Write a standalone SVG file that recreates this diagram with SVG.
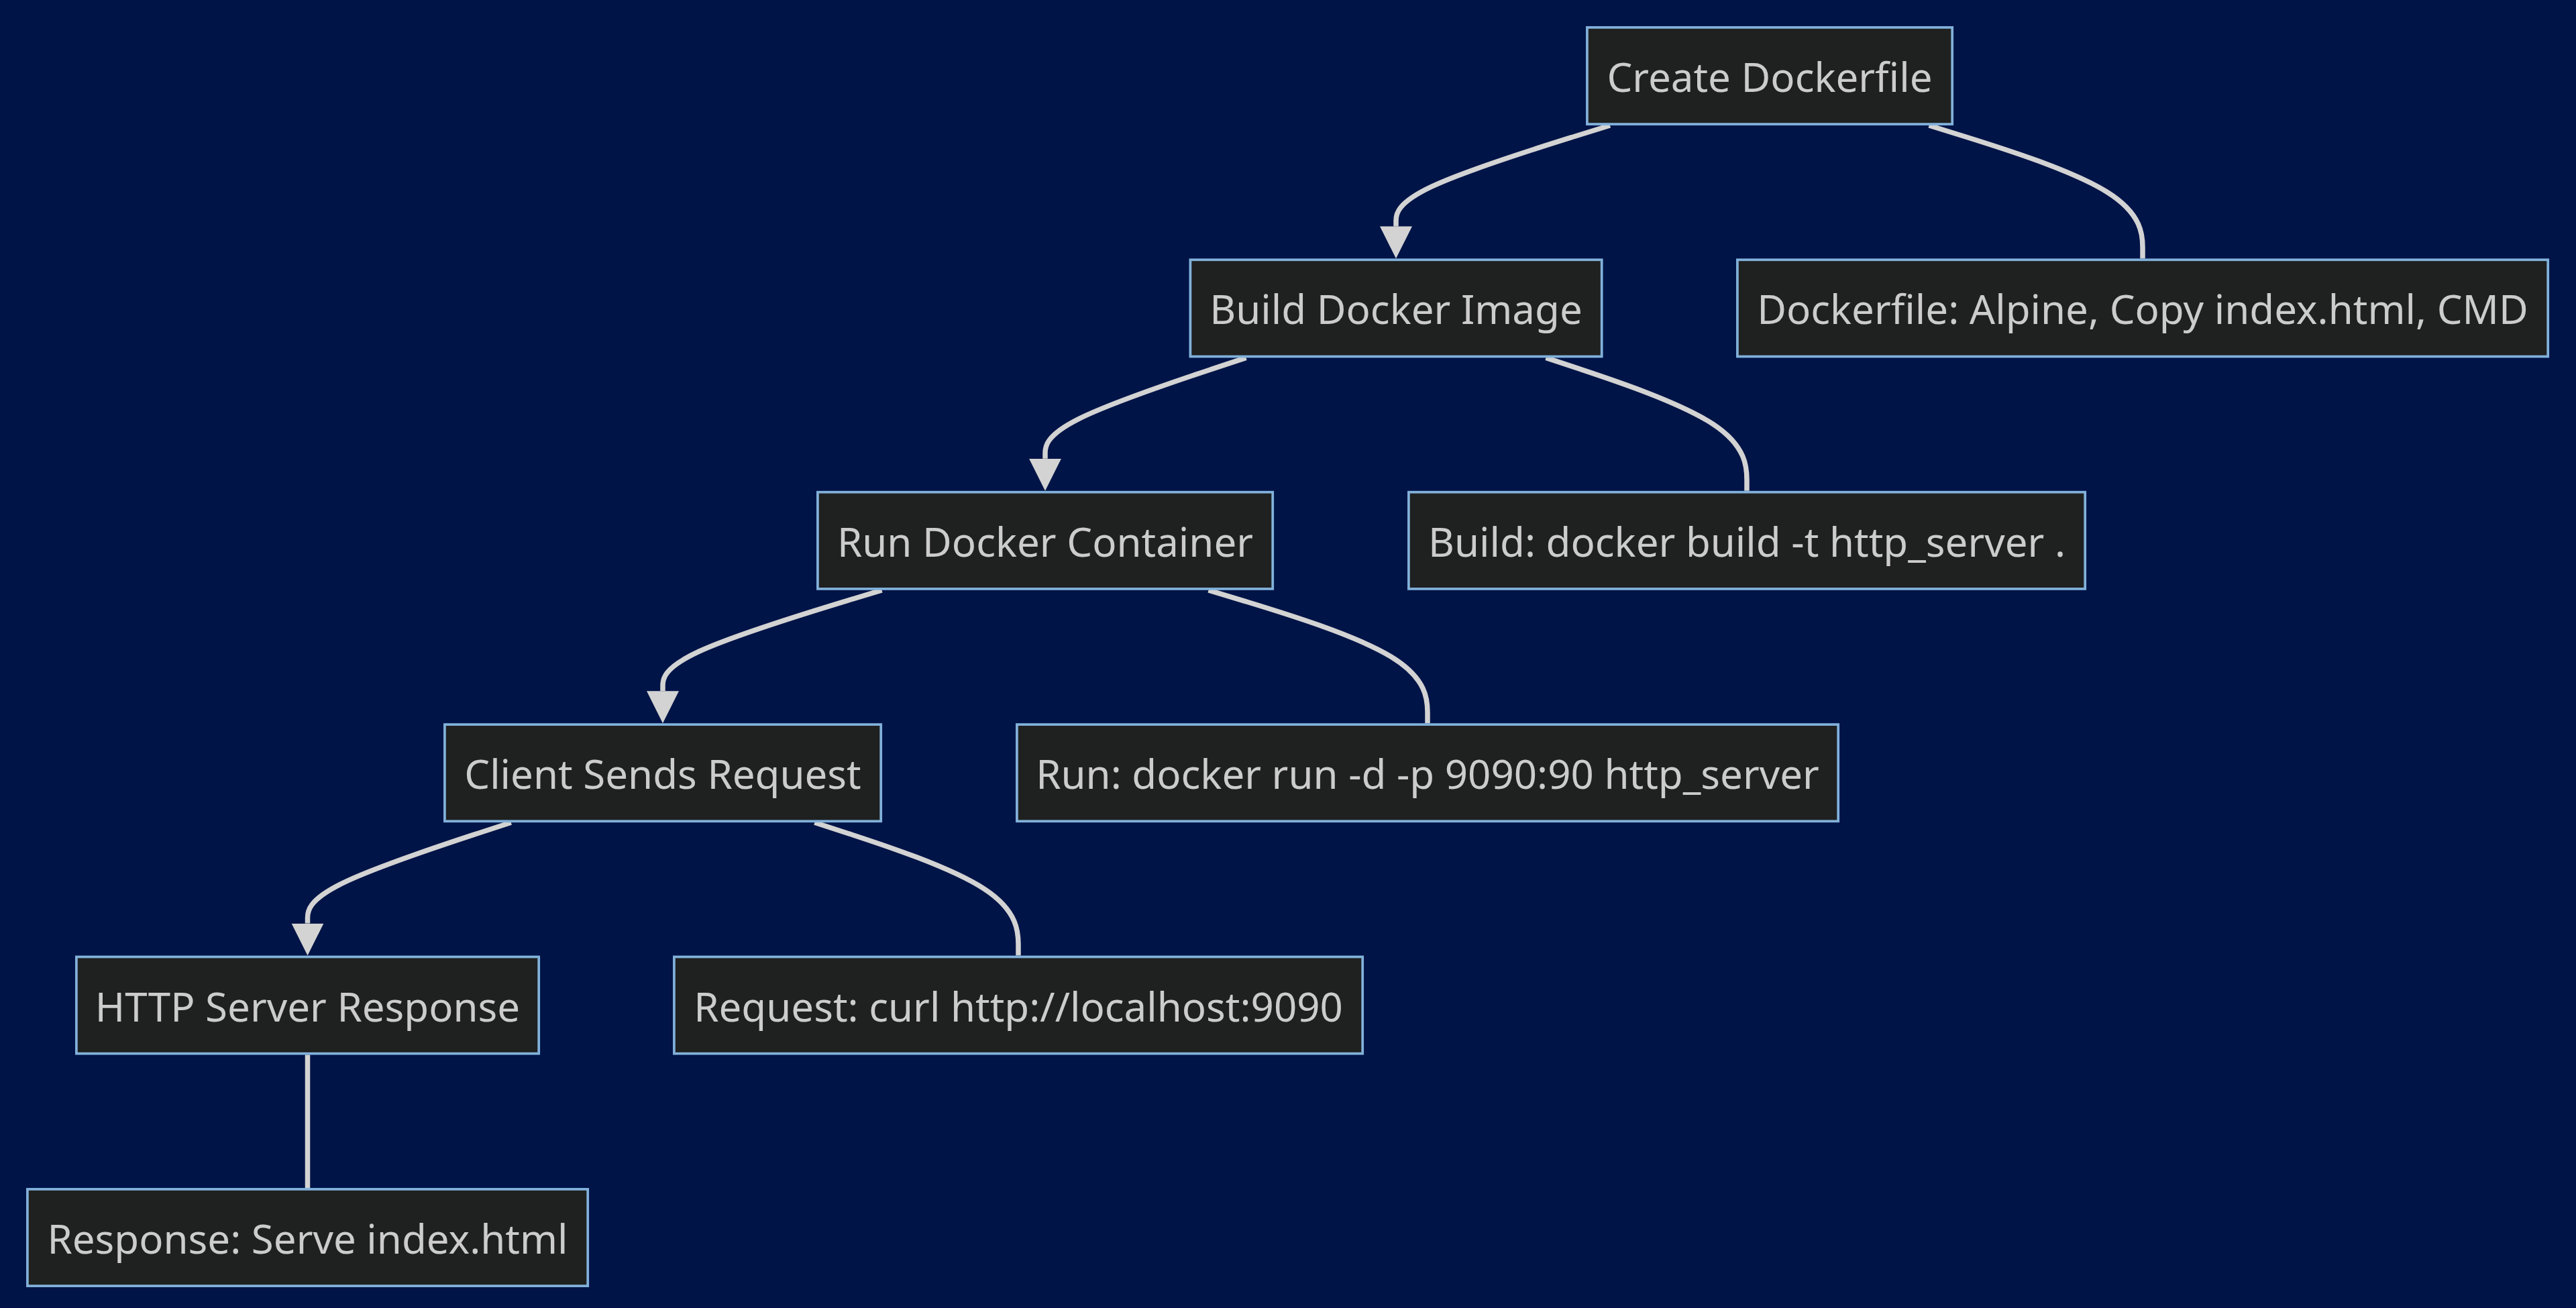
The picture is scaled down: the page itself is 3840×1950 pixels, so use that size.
<svg xmlns="http://www.w3.org/2000/svg" width="3840" height="1950" viewBox="0 0 3840 1950">
<style>
.bg{fill:#001447}
.node rect{fill:#1f2020;stroke:#81b1db;stroke-width:3.75}
.node text{font-family:"Noto Sans","Open Sans",sans-serif;font-size:60px;fill:#cccccc;text-anchor:middle}
.edge{fill:none;stroke:#d3d3d3;stroke-width:7.5}
.arrow{marker-end:url(#arrowhead)}
</style>
<defs>
<marker id="arrowhead" viewBox="0 0 10 10" refX="0" refY="5" markerUnits="userSpaceOnUse" markerWidth="48" markerHeight="48" orient="auto">
<path d="M0,0 L10,5 L0,10 z" fill="#d3d3d3"/>
</marker>
</defs>
<rect class="bg" x="0" y="0" width="3840" height="1950"/>
<g id="connectors">
<path class="edge arrow" d="M2400,187 L2346.8,203.5 C2293.7,220.1 2187.3,253.1 2134.2,278.2 C2081,303.3 2081,320.3 2081,328.9 L2081,337.4"/>
<path class="edge" d="M2875.6,187 L2928.7,203.5 C2981.7,220.1 3087.9,253.1 3140.9,286.2 C3194,319.3 3194,352.3 3194,368.9 L3194,385.4"/>
<path class="edge arrow" d="M1857.5,533.4 L1807.6,549.9 C1757.7,566.5 1657.8,599.5 1607.9,624.6 C1558,649.7 1558,666.7 1558,675.3 L1558,683.8"/>
<path class="edge" d="M2304.5,533.4 L2354.4,549.9 C2404.3,566.5 2504.2,599.5 2554.1,632.6 C2604,665.7 2604,698.7 2604,715.3 L2604,731.8"/>
<path class="edge arrow" d="M1314.5,879.8 L1260.1,896.3 C1205.7,912.9 1096.8,945.9 1042.4,971 C988,996.1 988,1013.1 988,1021.7 L988,1030.2"/>
<path class="edge" d="M1801.5,879.8 L1855.9,896.3 C1910.3,912.9 2019.2,945.9 2073.6,979 C2128,1012.1 2128,1045.1 2128,1061.7 L2128,1078.2"/>
<path class="edge arrow" d="M761.8,1226.2 L711.3,1242.7 C660.7,1259.3 559.6,1292.3 509.1,1317.4 C458.5,1342.5 458.5,1359.5 458.5,1368.1 L458.5,1376.6"/>
<path class="edge" d="M1214.4,1226.2 L1265,1242.7 C1315.6,1259.3 1416.8,1292.3 1467.4,1325.4 C1518,1358.5 1518,1391.5 1518,1408.1 L1518,1424.6"/>
<path class="edge" d="M458.5,1572.6 L458.5,1771"/>
</g>
<g id="node-create" class="node">
<rect x="2365.9" y="40.9" width="544.3" height="144.2"/>
<text x="2638" y="137">Create Dockerfile</text>
</g>
<g id="node-build" class="node">
<rect x="1774.4" y="387.3" width="613.3" height="144.2"/>
<text x="2081" y="483.4">Build Docker Image</text>
</g>
<g id="node-dockerfile" class="node">
<rect x="2589.9" y="387.3" width="1208.3" height="144.2"/>
<text x="3194" y="483.4">Dockerfile: Alpine, Copy index.html, CMD</text>
</g>
<g id="node-run" class="node">
<rect x="1218.9" y="733.7" width="678.3" height="144.2"/>
<text x="1558" y="829.8">Run Docker Container</text>
</g>
<g id="node-buildcmd" class="node">
<rect x="2099.9" y="733.7" width="1008.3" height="144.2"/>
<text x="2604" y="829.8">Build: docker build -t http_server .</text>
</g>
<g id="node-client" class="node">
<rect x="662.9" y="1080.1" width="650.3" height="144.2"/>
<text x="988" y="1176.2">Client Sends Request</text>
</g>
<g id="node-runcmd" class="node">
<rect x="1515.9" y="1080.1" width="1224.3" height="144.2"/>
<text x="2128" y="1176.2">Run: docker run -d -p 9090:90 http_server</text>
</g>
<g id="node-http" class="node">
<rect x="113.9" y="1426.5" width="689.3" height="144.2"/>
<text x="458.5" y="1522.6">HTTP Server Response</text>
</g>
<g id="node-request" class="node">
<rect x="1004.9" y="1426.5" width="1026.3" height="144.2"/>
<text x="1518" y="1522.6">Request: curl http://localhost:9090</text>
</g>
<g id="node-response" class="node">
<rect x="40.9" y="1772.9" width="835.3" height="144.2"/>
<text x="458.5" y="1869">Response: Serve index.html</text>
</g>
</svg>
